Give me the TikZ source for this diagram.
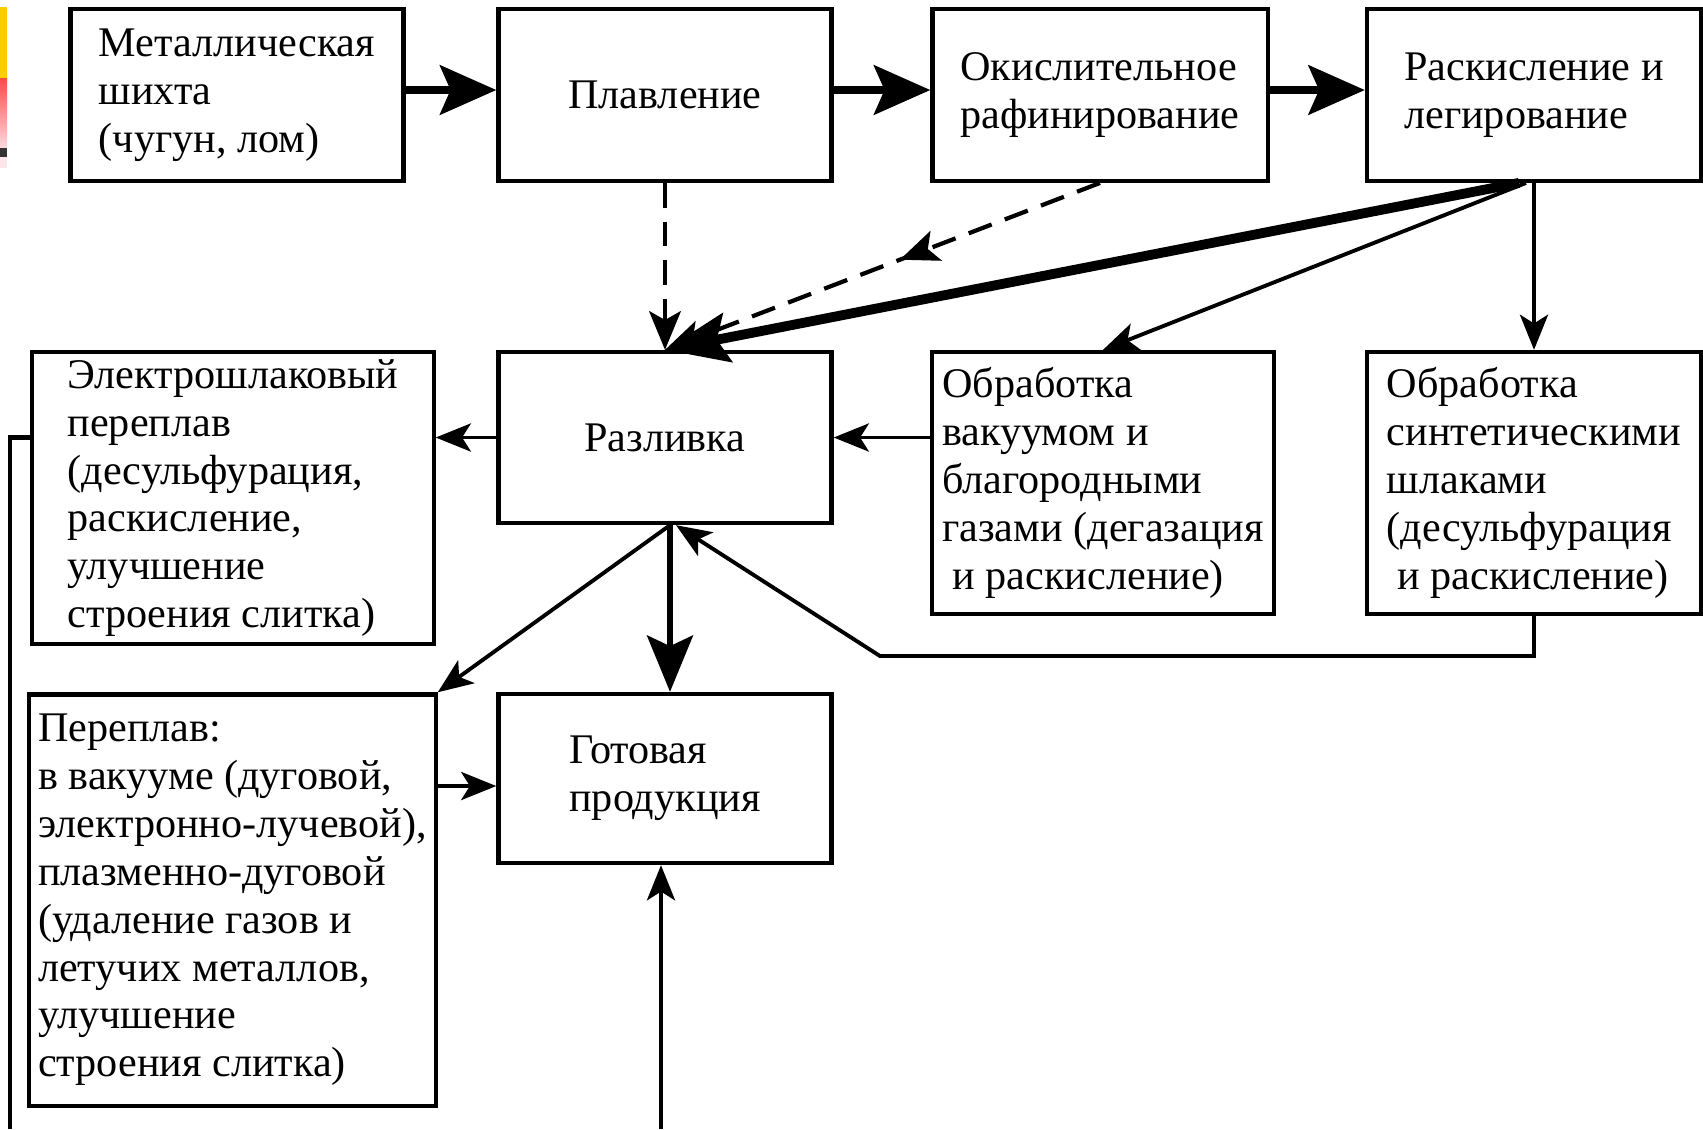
\documentclass[tikz,border=0pt]{standalone}
\usepackage{fontspec}
\setmainfont{Liberation Serif}
\usetikzlibrary{arrows.meta,decorations.markings}
\definecolor{stripyellow}{HTML}{FFCC00}
\definecolor{stripred}{HTML}{FF4A4A}
\definecolor{strippale}{HTML}{FFD8DE}
\definecolor{strippink}{HTML}{FFE6EA}
\newcommand{\boxfont}{\fontsize{12}{13.6}\selectfont}

\begin{document}
\begin{tikzpicture}[x=0.01cm, y=-0.01cm,
    box/.style={draw=black, line width=1.2pt, inner sep=0.05cm, align=left, font=\boxfont},
    thinarr/.style={line width=1.1pt, -{Stealth[length=10pt, width=8pt, inset=2.5pt]}},
    fatarr/.style={line width=2.2pt, -{Stealth[length=16pt, width=14pt, inset=3pt]}},
    dasharr/.style={line width=1.2pt, dash pattern=on 7pt off 4pt, -{Stealth[length=11pt, width=9pt, inset=2.5pt]}},
    midarr/.style={postaction={decorate}, decoration={markings, mark=at position 0.46 with {\arrow{Stealth[length=11pt, width=9pt, inset=2.5pt]}}}}]
    \useasboundingbox (0,0) rectangle (1703,1129);
    \fill[white] (0,0) rectangle (1703,1129);

    % strip at the left edge
    \fill[stripyellow] (0,7) rectangle (7,78);
    \shade[top color=stripred, bottom color=strippale] (0,78) rectangle (7,148);
    \fill[black!80] (0,148) rectangle (7,157);
    \fill[strippink] (0,157) rectangle (7,168);

    % first row
    \node[box, minimum width=3.33cm, minimum height=1.715cm](Shihta) at (237,95){Металлическая\\шихта\\(чугун, лом)};
    \node[box, minimum width=3.33cm, minimum height=1.715cm](Plav) at (665,95){Плавление};
    \node[box, minimum width=3.35cm, minimum height=1.715cm](Okisl) at (1100,95){Окислительное\\рафинирование};
    \node[box, minimum width=3.34cm, minimum height=1.715cm](Raskisl) at (1534,95){Раскисление и\\легирование};

    % second row
    \node[box, minimum width=4.01cm, minimum height=2.92cm](Esh) at (233,498){Электрошлаковый\\переплав\\(десульфурация,\\раскисление,\\улучшение\\строения слитка)};
    \node[box, minimum width=3.33cm, minimum height=1.71cm](Razl) at (665,437.5){Разливка};
    \node[box, minimum width=3.42cm, minimum height=2.62cm](Vak) at (1103,483){Обработка\\вакуумом и\\благородными\\газами (дегазация\\\hspace*{3pt}и раскисление)};
    \node[box, minimum width=3.34cm, minimum height=2.62cm](Shlak) at (1534,483){Обработка\\синтетическими\\шлаками\\(десульфурация\\\hspace*{3pt}и раскисление)};

    % third row
    \node[box, minimum width=4.06cm, minimum height=4.11cm](Perepl) at (232.5,900){Переплав:\\в вакууме (дуговой,\\электронно-лучевой),\\плазменно-дуговой\\(удаление газов и\\летучих металлов,\\улучшение\\строения слитка)};
    \node[box, minimum width=3.33cm, minimum height=1.69cm](Gotov) at (665,778.5){Готовая\\продукция};

    % main line
    \draw[fatarr] ([yshift=0.05cm]Shihta.east) -- ([yshift=0.05cm]Plav.west);
    \draw[fatarr] ([yshift=0.05cm]Plav.east) -- ([yshift=0.05cm]Okisl.west);
    \draw[fatarr] ([yshift=0.05cm]Okisl.east) -- ([yshift=0.05cm]Raskisl.west);

    % into the casting
    \draw[dasharr] (Plav.south) -- (Razl.north);
    \draw[dasharr, midarr] (Okisl.south) -- (Razl.north);
    \draw[line width=2.8pt, -{Stealth[length=18pt, width=14pt, inset=3pt]}] ([xshift=-0.15cm]Raskisl.south) -- (Razl.north);
    \draw[thinarr] ([xshift=-0.08cm]Raskisl.south) -- (Vak.north);
    \draw[thinarr] (Raskisl.south) -- (Shlak.north);
    \draw[thinarr] (Vak.west |- Razl.east) -- (Razl.east);
    \draw[thinarr] (Razl.west) -- (Esh.east |- Razl.west);

    % out of the casting
    \draw[line width=1.8pt, -{Stealth[length=16pt, width=13pt, inset=3pt]}] ([xshift=0.05cm]Razl.south) -- ([xshift=0.05cm]Gotov.north);
    \draw[thinarr] ([xshift=0.05cm]Razl.south) -- (Perepl.north east);
    \coordinate (Povorot) at (880,656);
    \draw[thinarr] (Shlak.south) |- (Povorot) -- ([xshift=0.11cm]Razl.south);
    \coordinate (Vhod) at ([yshift=-0.075cm]Gotov.west);
    \draw[thinarr] (Perepl.east |- Vhod) -- (Vhod);

    % lines running off the bottom
    \coordinate (NizL) at (10,1129);
    \coordinate (NizP) at (661,1129);
    \draw[line width=1.2pt] (Esh.west |- Razl.west) -| (NizL);
    \draw[thinarr] (NizP) -- (NizP |- Gotov.south);
\end{tikzpicture}
\end{document}
